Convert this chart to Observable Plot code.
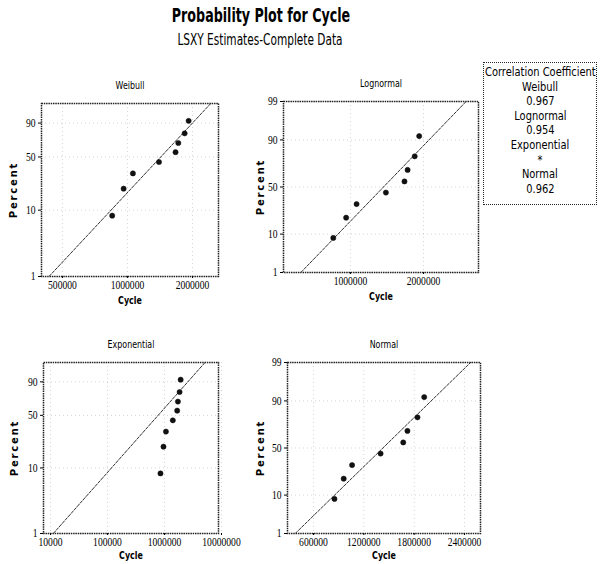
<!DOCTYPE html>
<html><head><meta charset="utf-8">
<script src="https://cdn.jsdelivr.net/npm/d3@7"></script>
<script src="https://cdn.jsdelivr.net/npm/@observablehq/plot@0.6"></script>
<style>
html,body{margin:0;padding:0;background:#fff;width:601px;height:564px;overflow:hidden;position:relative;}
#title{position:absolute;left:261px;top:4px;font-family:"DejaVu Sans",sans-serif;font-weight:bold;font-size:19px;white-space:nowrap;color:#000;transform-origin:0 0;}
#subtitle{position:absolute;left:260px;top:30px;font-family:"DejaVu Sans",sans-serif;font-size:16px;white-space:nowrap;color:#000;transform-origin:0 0;}
.panel{position:absolute;}
.panel svg{overflow:visible;}
#legend{position:absolute;left:483px;top:62px;width:114px;height:143px;border:1px dotted #222;box-sizing:border-box;color:#000;padding-top:2px;}
#legend div{font-family:"DejaVu Sans",sans-serif;font-size:11.5px;line-height:14.6px;height:14.6px;white-space:nowrap;text-align:center;}
#legend span{display:inline-block;transform:scaleX(0.86);margin:0 -30px;}
.panel svg text{font-family:"Liberation Serif",serif;}
.panel svg [aria-label="y-axis label"] text{font-weight:bold;letter-spacing:1.8px;font-family:"DejaVu Sans",sans-serif;font-size:10px;}
.panel svg [aria-label="x-axis label"] text{font-weight:bold;font-family:"DejaVu Sans",sans-serif;font-size:11px;}
.panel svg text.ptitle{font-family:"DejaVu Sans",sans-serif;font-size:11px;}
</style>
</head><body>
<div id="title">Probability Plot for Cycle</div>
<div id="subtitle">LSXY Estimates-Complete Data</div>
<div id="legend"></div>
<div id="p0" class="panel"></div>
<div id="p1" class="panel"></div>
<div id="p2" class="panel"></div>
<div id="p3" class="panel"></div>
<script>
// ---- data ----
const cycles = [850000, 960000, 1060000, 1400000, 1670000, 1720000, 1840000, 1920000];
const percents = [8.3, 20.2, 32.1, 44.0, 56.0, 67.9, 79.8, 91.7];
const panelNames = ["Weibull", "Lognormal", "Exponential", "Normal"];
const legendTitle = "Correlation Coefficient";
const corrValues = ["0.967", "0.954", "*", "0.962"];
const pctTicksShort = [1, 10, 50, 90];
const pctTicksLong = [1, 10, 50, 90, 99];
const pctRange = [1, 99];
const xTicksWeibull = [500000, 1000000, 2000000];
const xTicksLognormal = [1000000, 2000000];
const xTicksExponential = [10000, 100000, 1000000, 10000000];
const xTicksNormal = [600000, 1200000, 1800000, 2400000];

// ---- transforms ----
function probit(p){
 const a=[-3.969683028665376e+01,2.209460984245205e+02,-2.759285104469687e+02,1.383577518672690e+02,-3.066479806614716e+01,2.506628277459239e+00];
 const b=[-5.447609879822406e+01,1.615858368580409e+02,-1.556989798598866e+02,6.680131188771972e+01,-1.328068155288572e+01];
 const c=[-7.784894002430293e-03,-3.223964580411365e-01,-2.400758277161838e+00,-2.549732539343734e+00,4.374664141464968e+00,2.938163702232835e+00];
 const d=[7.784695709041462e-03,3.224671290700398e-01,2.445134137142996e+00,3.754408661907416e+00];
 const pl=0.02425, ph=1-pl; let q,r;
 if(p<pl){q=Math.sqrt(-2*Math.log(p));return (((((c[0]*q+c[1])*q+c[2])*q+c[3])*q+c[4])*q+c[5])/((((d[0]*q+d[1])*q+d[2])*q+d[3])*q+1);}
 if(p<=ph){q=p-0.5;r=q*q;return (((((a[0]*r+a[1])*r+a[2])*r+a[3])*r+a[4])*r+a[5])*q/(((((b[0]*r+b[1])*r+b[2])*r+b[3])*r+b[4])*r+1);}
 q=Math.sqrt(-2*Math.log(1-p));return -(((((c[0]*q+c[1])*q+c[2])*q+c[3])*q+c[4])*q+c[5])/((((d[0]*q+d[1])*q+d[2])*q+d[3])*q+1);
}
const weib = p => Math.log(-Math.log(1 - p));
// LSXY: regress X on Y
function fitXonY(X, Y){
  const mx = d3.mean(X), my = d3.mean(Y);
  let sxy = 0, syy = 0;
  for (let i = 0; i < X.length; i++){ sxy += (Y[i]-my)*(X[i]-mx); syy += (Y[i]-my)**2; }
  const b = sxy/syy; return {a: mx - b*my, b};
}
const P = percents.map(p => p/100);
const fW = fitXonY(cycles.map(Math.log), P.map(weib));
const fL = fitXonY(cycles.map(Math.log), P.map(probit));
const fN = fitXonY(cycles, P.map(probit));
const wE = P.map(p => -Math.log(1-p));
const thetaE = d3.sum(cycles, (x,i) => x*wE[i]) / d3.sum(wE, w => w*w);

const panels = [
  {id:"p0", left:0, top:62, width:232, height:246, mt:41, mr:14, mb:32, ml:41,
   xType:"log", xDomain:[400000, 2640000], xTicks:xTicksWeibull, fy:weib, yTicks:pctTicksShort,
   fitX: p => Math.exp(fW.a + fW.b*weib(p)), labelOffset:27, yLabelOffset:32},
  {id:"p1", left:260, top:62, width:232, height:244, mt:39, mr:14, mb:34, ml:23,
   xType:"log", xDomain:[530000, 3370000], xTicks:xTicksLognormal, fy:probit, yTicks:pctTicksLong,
   fitX: p => Math.exp(fL.a + fL.b*probit(p)), labelOffset:27, yLabelOffset:27},
  {id:"p2", left:0, top:320, width:232, height:244, mt:42, mr:14, mb:31, ml:43,
   xType:"log", xDomain:[7540, 8860000], xTicks:xTicksExponential, fy:weib, yTicks:pctTicksShort,
   fitX: p => thetaE*(-Math.log(1-p)), labelOffset:25, yLabelOffset:33},
  {id:"p3", left:260, top:320, width:234, height:244, mt:42, mr:14, mb:31, ml:27,
   xType:"linear", xDomain:[290000, 2591000], xTicks:xTicksNormal, fy:probit, yTicks:pctTicksLong,
   fitX: p => fN.a + fN.b*probit(p), labelOffset:25, yLabelOffset:31}
];

function squeeze(nodes, f){
  nodes.forEach(t => {
    const L = t.getComputedTextLength();
    if (L > 0){ t.setAttribute("textLength", (L*f).toFixed(2)); t.setAttribute("lengthAdjust", "spacingAndGlyphs"); }
  });
}

panels.forEach((cfg, k) => {
  const data = cycles.map((c,i) => ({x:c, y:cfg.fy(percents[i]/100)}));
  const line = pctRange.map(p => ({x:cfg.fitX(p/100), y:cfg.fy(p/100)}));
  const yT = cfg.yTicks.map(p => cfg.fy(p/100));
  const lab = new Map(yT.map((v,i) => [v, String(cfg.yTicks[i])]));
  const chart = Plot.plot({
    width: cfg.width, height: cfg.height,
    marginTop: cfg.mt, marginRight: cfg.mr, marginBottom: cfg.mb, marginLeft: cfg.ml,
    style: {fontFamily: "Liberation Serif, serif", fontSize: "12px", color: "#000", background: "transparent"},
    x: {type: cfg.xType, domain: cfg.xDomain},
    y: {domain: [cfg.fy(0.01), cfg.fy(0.99)]},
    marks: [
      Plot.gridX(cfg.xTicks, {stroke:"#888", strokeOpacity:0.35, strokeDasharray:"1,3"}),
      Plot.gridY(yT, {stroke:"#888", strokeOpacity:0.35, strokeDasharray:"1,3"}),
      Plot.line(line, {x:"x", y:"y", stroke:"#333", strokeWidth:1, strokeDasharray:"3,1.5", clip:true}),
      Plot.frame({stroke:"#222", strokeWidth:1.5, strokeDasharray:"1.5,0.8"}),
      Plot.axisX({ticks: cfg.xTicks, tickFormat: d => String(d), tickSize:2, tickPadding:2, label:"Cycle",
        labelAnchor:"center", labelArrow:"none", labelOffset: cfg.labelOffset, fontSize:12}),
      Plot.axisY({ticks: yT, tickFormat: v => lab.get(v), tickSize:3, tickPadding:3, label:"Percent",
        labelAnchor:"center", labelArrow:"none", labelOffset: cfg.yLabelOffset, fontSize:12}),
      Plot.dot(data, {x:"x", y:"y", r:2.6, fill:"#111", stroke:"#111", strokeWidth:0.5}),
      Plot.text([panelNames[k]], {frameAnchor:"top", dy:-22, fill:"#000", fontSize:11})
    ]
  });
  const el = document.getElementById(cfg.id);
  el.style.left = cfg.left + "px"; el.style.top = cfg.top + "px";
  el.appendChild(chart);
  const titleTexts = Array.from(chart.querySelectorAll("text")).filter(t => t.textContent === panelNames[k]);
  titleTexts.forEach(t => t.classList.add("ptitle"));
  squeeze(chart.querySelectorAll('[aria-label="x-axis tick label"] text, [aria-label="y-axis tick label"] text'), 0.8);
  squeeze(chart.querySelectorAll('[aria-label="x-axis label"] text'), 0.72);
  squeeze(titleTexts, 0.72);
});

const lg = document.getElementById("legend");
const rows = [legendTitle];
panelNames.forEach((n,i) => { rows.push(n); rows.push(corrValues[i]); });
rows.forEach(r => { const d = document.createElement("div"); const s = document.createElement("span"); s.textContent = r; d.appendChild(s); lg.appendChild(d); });

// fit title widths to the reference
function fitWidth(id, target){
  const e = document.getElementById(id);
  const w = e.offsetWidth;
  e.style.transform = `scaleX(${target/w}) translateX(-50%)`;
}
fitWidth("title", 178);
fitWidth("subtitle", 165);
</script>
</body></html>
